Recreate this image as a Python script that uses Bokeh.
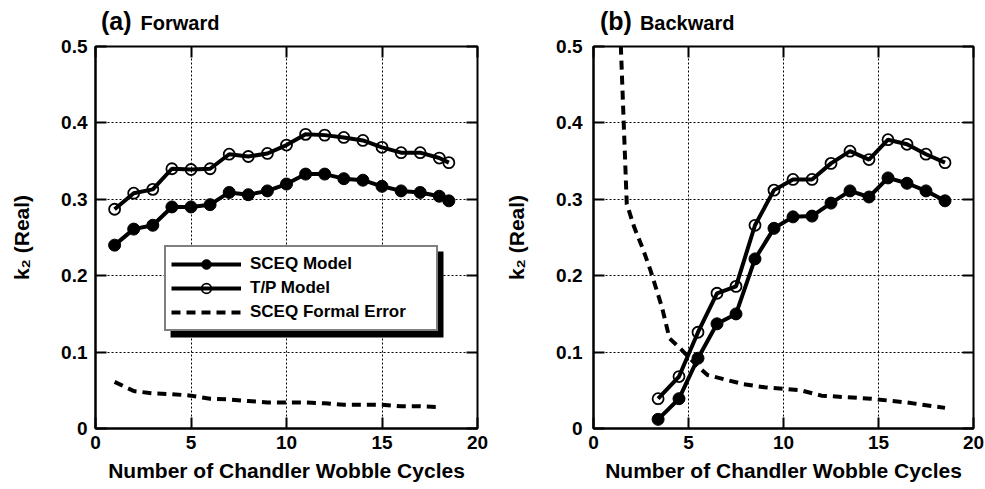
from bokeh.plotting import figure
from bokeh.models import (Range1d, FixedTicker, LinearAxis, Legend, LegendItem,
                          BoxAnnotation, Div)
from bokeh.layouts import row, column
from bokeh.embed import file_html
from bokeh.resources import INLINE

FONT = "Liberation Sans"

# ---------------- data ----------------
fwd_x = [1, 2, 3, 4, 5, 6, 7, 8, 9, 10, 11, 12, 13, 14, 15, 16, 17, 18, 18.5]
fwd_sceq = [0.240, 0.261, 0.266, 0.290, 0.290, 0.293, 0.309, 0.306, 0.311, 0.320,
            0.333, 0.333, 0.327, 0.325, 0.317, 0.311, 0.309, 0.304, 0.298]
fwd_tp = [0.287, 0.308, 0.313, 0.340, 0.339, 0.340, 0.359, 0.356, 0.360, 0.371,
          0.385, 0.384, 0.381, 0.377, 0.368, 0.361, 0.361, 0.354, 0.348]
fwd_err_x = [1, 2, 3, 4, 5, 6, 7, 8, 9, 10, 11, 12, 13, 14, 15, 16, 17, 18]
fwd_err = [0.061, 0.049, 0.046, 0.045, 0.043, 0.039, 0.038, 0.036, 0.034, 0.034,
           0.034, 0.033, 0.031, 0.031, 0.031, 0.029, 0.029, 0.028]

bwd_x = [3.4, 4.5, 5.5, 6.5, 7.5, 8.5, 9.5, 10.5, 11.5, 12.5, 13.5, 14.5, 15.5,
         16.5, 17.5, 18.5]
bwd_sceq = [0.012, 0.039, 0.092, 0.137, 0.150, 0.222, 0.262, 0.277, 0.278, 0.295,
            0.311, 0.303, 0.328, 0.321, 0.311, 0.298]
bwd_tp = [0.039, 0.068, 0.126, 0.177, 0.186, 0.266, 0.312, 0.326, 0.326, 0.347,
          0.363, 0.352, 0.378, 0.372, 0.359, 0.348]
bwd_err_x = [1.35, 1.75, 2.15, 2.6, 3.0, 3.6, 4.0, 4.6, 5.5, 6.0, 7.9, 9.0, 10.9,
             12.0, 14.6, 16.5, 18.5]
bwd_err = [0.56, 0.294, 0.263, 0.235, 0.207, 0.159, 0.118, 0.104, 0.081, 0.070,
           0.058, 0.054, 0.050, 0.043, 0.039, 0.034, 0.027]

x_ticks = [0, 5, 10, 15, 20]
y_ticks = [0, 0.1, 0.2, 0.3, 0.4, 0.5]
y_tick_labels = {0: "0", 0.1: "0.1", 0.2: "0.2", 0.3: "0.3", 0.4: "0.4", 0.5: "0.5"}

x_label = "Number of Chandler Wobble Cycles"
y_label = "k\u2082 (Real)"
legend_labels = ["SCEQ Model", "T/P Model", "SCEQ Formal Error"]
panel_letters = ["(a)", "(b)"]
panel_names = ["Forward", "Backward"]

TOTAL_H = 488
TITLE_H = 35
FRAME_TOP = 46


def make_title(width, pad_left, gap, letter, name):
    html = (
        f'<div style="padding-left:{pad_left}px;padding-top:7px;'
        f'font-family:\'{FONT}\',Arial,sans-serif;font-size:25px;'
        f'font-weight:bold;line-height:28px;white-space:nowrap;color:black;">'
        f'<span style="font-size:25px;">{letter}</span>'
        f'<span style="font-size:20px;line-height:20px;margin-left:{gap}px;">{name}</span></div>'
    )
    return Div(text=html, width=width, height=TITLE_H, margin=0)


def make_panel(width, left, right, xs, sceq, tp, ex, err, tick_standoff, with_legend):
    p = figure(width=width, height=TOTAL_H - TITLE_H, x_range=Range1d(0, 20),
               y_range=Range1d(0, 0.5),
               output_backend="svg", toolbar_location=None,
               min_border_left=left, min_border_right=right,
               min_border_top=FRAME_TOP - TITLE_H, min_border_bottom=60, margin=0)
    p.background_fill_color = "white"
    p.border_fill_color = "white"
    p.outline_line_color = "black"
    p.outline_line_width = 2

    for g in (p.xgrid, p.ygrid):
        g.grid_line_color = "black"
        g.grid_line_dash = "2 2"
        g.grid_line_width = 1
        g.grid_line_alpha = 1.0
    p.xgrid.ticker = FixedTicker(ticks=x_ticks)
    p.ygrid.ticker = FixedTicker(ticks=y_ticks)

    xa = p.xaxis[0]
    xa.ticker = FixedTicker(ticks=x_ticks)
    xa.axis_label = x_label
    xa.major_label_standoff = 7
    xa.axis_label_standoff = 7
    ya = p.yaxis[0]
    ya.ticker = FixedTicker(ticks=y_ticks)
    ya.major_label_overrides = y_tick_labels
    ya.axis_label = y_label
    ya.major_label_standoff = tick_standoff
    ya.axis_label_standoff = 25
    for a in (xa, ya):
        a.axis_line_color = "black"
        a.axis_line_width = 2
        a.major_tick_in = 11
        a.major_tick_out = 0
        a.major_tick_line_width = 2
        a.minor_tick_line_color = None
        a.major_label_text_font = FONT
        a.major_label_text_font_style = "bold"
        a.major_label_text_font_size = "19px"
        a.major_label_text_color = "black"
        a.axis_label_text_font = FONT
        a.axis_label_text_font_style = "bold"
        a.axis_label_text_font_size = "21px"
        a.axis_label_text_color = "black"

    # mirrored tick axes (no labels) on right and top
    for loc, tk in (("right", y_ticks), ("above", x_ticks)):
        ax = LinearAxis(ticker=FixedTicker(ticks=tk),
                        major_label_overrides={t: "" for t in tk},
                        major_label_text_font_size="1px",
                        major_label_standoff=0, major_tick_in=11, major_tick_out=0,
                        major_tick_line_width=2, minor_tick_line_color=None,
                        axis_line_color=None)
        p.add_layout(ax, loc)

    # series
    dash = p.line(ex, err, line_color="black", line_width=4, line_dash="9 6")
    l_tp = p.line(xs, tp, line_color="black", line_width=4)
    s_tp = p.scatter(xs, tp, size=11, marker="circle", fill_color=None,
                     line_color="black", line_width=1.8)
    l_sc = p.line(xs, sceq, line_color="black", line_width=4)
    s_sc = p.scatter(xs, sceq, size=12, marker="circle", fill_color="black",
                     line_color="black")

    if with_legend:
        shadow = BoxAnnotation(left=3.93, right=18.22, top=0.2317, bottom=0.1191,
                               fill_color="black", fill_alpha=1.0, line_color=None)
        p.add_layout(shadow)
        legend = Legend(items=[
            LegendItem(label=legend_labels[0], renderers=[l_sc, s_sc]),
            LegendItem(label=legend_labels[1], renderers=[l_tp, s_tp]),
            LegendItem(label=legend_labels[2], renderers=[dash]),
        ], location=(69, 97))
        legend.border_line_color = "black"
        legend.border_line_width = 2.5
        legend.background_fill_color = "white"
        legend.background_fill_alpha = 1
        legend.label_text_font = FONT
        legend.label_text_font_style = "bold"
        legend.label_text_font_size = "17px"
        legend.label_text_color = "black"
        legend.glyph_width = 70
        legend.glyph_height = 24
        legend.label_height = 24
        legend.label_standoff = 9
        legend.label_width = 181
        legend.spacing = 0
        legend.padding = 5
        legend.margin = 0
        p.add_layout(legend, "center")
    return p


p1 = make_panel(490, 95, 13, fwd_x, fwd_sceq, fwd_tp, fwd_err_x, fwd_err, 8, True)
p2 = make_panel(495, 103, 12, bwd_x, bwd_sceq, bwd_tp, bwd_err_x, bwd_err, 11, False)
t1 = make_title(490, 101, 9, panel_letters[0], panel_names[0])
t2 = make_title(495, 110, 8, panel_letters[1], panel_names[1])

p = row(column(t1, p1), column(t2, p2))
open("out.html", "w").write(file_html(p, INLINE))
